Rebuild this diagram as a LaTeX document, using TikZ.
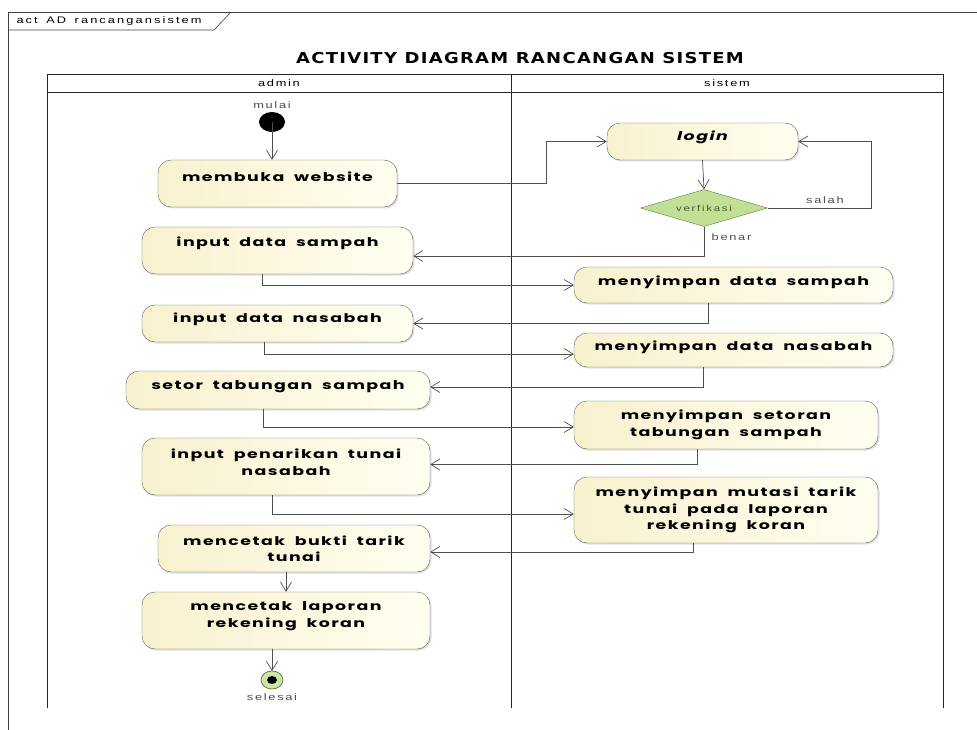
\documentclass[tikz,border=0pt]{standalone}
\usepackage{fontspec}
\setmainfont{Poppins}
\newfontfamily\boxfont[FakeStretch=1.45,LetterSpace=12,WordSpace=1.9]{Poppins}
\newfontfamily\smallfont[FakeStretch=1.35,WordSpace=1.5]{Liberation Sans}
\newfontfamily\titlefont[FakeStretch=1.2,LetterSpace=8.5]{DejaVu Sans}
\usetikzlibrary{arrows.meta,shapes.geometric,shadows}
\definecolor{boxfill}{HTML}{F8F1CF}
\definecolor{boxlight}{HTML}{FFFEF0}
\definecolor{boxline}{HTML}{5F5F4A}
\definecolor{decfill}{HTML}{C2E095}
\definecolor{decline}{HTML}{5E7F3A}
\definecolor{endfill}{HTML}{CFE5A8}
\definecolor{flowline}{HTML}{505050}

\begin{document}
\begin{tikzpicture}[x=1pt,y=-1pt,
    act/.style={draw=boxline,rounded corners=13pt,left color=boxfill,right color=boxlight,
      align=center,inner sep=2pt,font=\boxfont\bfseries\fontsize{12}{16.5}\selectfont,
      drop shadow={shadow xshift=1.5pt,shadow yshift=-1.5pt,opacity=0.25}},
    lift/.style={text depth=#1},
    decision/.style={diamond,aspect=3.4,draw=decline,fill=decfill,inner sep=0pt,
      font=\smallfont\addfontfeature{LetterSpace=20}\fontsize{8.5}{9}\selectfont,text=decline!70!black},
    flow/.style={draw=flowline,line width=0.7pt,-{Straight Barb[length=9pt,width=11pt]}},
    tag/.style={font=\smallfont\addfontfeature{LetterSpace=18}\fontsize{9.5}{10}\selectfont,text=black!70}]
\useasboundingbox (0,0) rectangle (977,730);

% frame and tab
\draw[black!75,line width=0.8pt] (977,12) -- (8,12) -- (8,730);
\draw[black!75,line width=0.6pt] (8,30) -- (214,30) -- (231,12);
\node[anchor=west,font=\smallfont\addfontfeature{LetterSpace=22}\fontsize{9.5}{10}\selectfont] (tab) at (13,21) {act AD rancangansistem};
\node[font=\titlefont\bfseries\fontsize{15}{17}\selectfont] (title) at (520,58) {ACTIVITY DIAGRAM RANCANGAN SISTEM};

% swimlanes
\draw[black!85,line width=0.9pt] (47,708) -- (47,74) -- (943,74) -- (943,708);
\draw[black!85,line width=0.9pt] (511,74) -- (511,708);
\draw[black!85,line width=0.7pt] (47,92) -- (943,92);
\node[tag,text=black] (admin) at (279,83) {admin};
\node[tag,text=black] (sistem) at (727,83) {sistem};

% admin lane
\fill[black] (272,122) ellipse (13pt and 10pt);
\coordinate (start) at (272,122);
\node[tag] (mulai) at (272,105) {mulai};
\node[act,lift=14pt,minimum width=239pt,minimum height=47pt] (website) at (277.5,183.5) {membuka website};
\node[act,lift=17.3pt,minimum width=271pt,minimum height=47pt] (sampahIn) at (277.5,250.5) {input data sampah};
\node[act,lift=12.3pt,minimum width=271pt,minimum height=37pt] (nasabahIn) at (277.5,323.5) {input data nasabah};
\node[act,lift=9.3pt,minimum width=304pt,minimum height=38pt] (setor) at (278,390) {setor tabungan sampah};
\node[act,lift=9pt,minimum width=288pt,minimum height=57pt] (tarikIn) at (286,466.5) {input penarikan tunai\\nasabah};
\node[act,minimum width=272pt,minimum height=47pt] (bukti) at (294,548.5) {mencetak bukti tarik\\tunai};
\node[act,lift=12.3pt,minimum width=288pt,minimum height=57pt] (laporan) at (286,620.5) {mencetak laporan\\rekening koran};
\filldraw[draw=decline,fill=endfill,line width=0.8pt] (272,680) ellipse (11pt and 9pt);
\fill[black] (272,680) ellipse (5pt and 4pt);
\coordinate (stop) at (272,671);
\node[tag] (selesai) at (272,697) {selesai};

% sistem lane
\node[act,lift=12.3pt,minimum width=191pt,minimum height=37pt,font=\boxfont\bfseries\itshape\fontsize{12}{16.5}\selectfont] (login) at (702.5,141.5) {login};
\node[decision,minimum width=127pt,minimum height=37pt] (verif) at (704,208) {verfikasi};
\node[act,lift=9.3pt,minimum width=319pt,minimum height=36pt] (simpanSampah) at (733.5,285) {menyimpan data sampah};
\node[act,lift=9.3pt,minimum width=319pt,minimum height=34pt] (simpanNasabah) at (733.5,350) {menyimpan data nasabah};
\node[act,minimum width=304pt,minimum height=48pt] (simpanSetoran) at (726,425) {menyimpan setoran\\tabungan sampah};
\node[act,minimum width=304pt,minimum height=66pt] (simpanMutasi) at (726,510) {menyimpan mutasi tarik\\tunai pada laporan\\rekening koran};

% flows
\draw[flow] (start) -- (start |- website.north);
\draw[flow] (website.east) -- ++(149,0) |- (login.west);
\draw[flow] (login.south) -- (verif.north);
\draw[flow] (verif.east) -- ++(104,0) node[tag,pos=0.55,above=1pt] {salah} |- (login.east);
\draw[flow] (verif.south) node[tag,anchor=north west,xshift=4pt,yshift=-3pt] {benar} |- ([yshift=-5.5pt]sampahIn.east);
\draw[flow] ([xshift=-15pt]sampahIn.south) |- (simpanSampah.west);
\draw[flow] ([xshift=-25pt]simpanSampah.south) |- (nasabahIn.east);
\draw[flow] ([xshift=-13pt]nasabahIn.south) |- ([yshift=-4pt]simpanNasabah.west);
\draw[flow] ([xshift=-30pt]simpanNasabah.south) |- ([yshift=3pt]setor.east);
\draw[flow] ([xshift=-15pt]setor.south) |- ([yshift=-2pt]simpanSetoran.west);
\draw[flow] ([xshift=-29pt]simpanSetoran.south) |- ([yshift=2pt]tarikIn.east);
\draw[flow] ([xshift=-14pt]tarikIn.south) |- ([yshift=-4pt]simpanMutasi.west);
\draw[flow] ([xshift=-33pt]simpanMutasi.south) |- ([yshift=-3.5pt]bukti.east);
\draw[flow] (bukti.south -| laporan.north) -- (laporan.north);
\draw[flow] (laporan.south -| stop) -- (stop);
\end{tikzpicture}
\end{document}
